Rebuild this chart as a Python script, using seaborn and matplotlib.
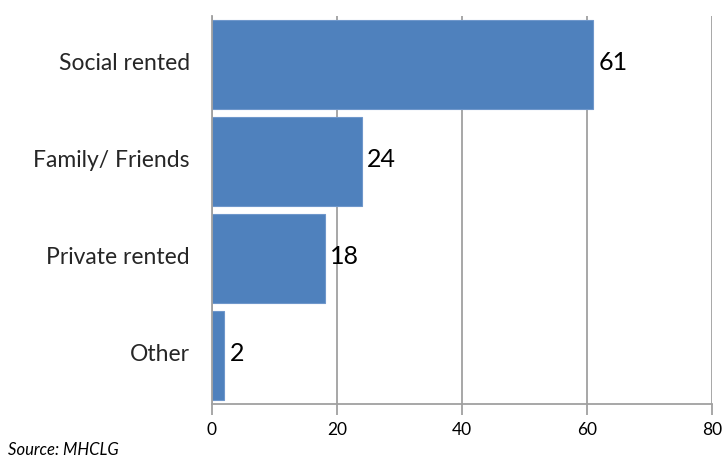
import matplotlib
matplotlib.use("Agg")
import matplotlib.pyplot as plt
import matplotlib.transforms as mtransforms
import seaborn as sns
import pandas as pd
import numpy as np

categories = ["Social rented", "Family/ Friends", "Private rented", "Other"]
values = [61, 24, 18, 2]
x_ticks = [0, 20, 40, 60, 80]
source_text = "Source: MHCLG"

bar_color = "#4F81BD"
grid_color = "#A0A0A0"

sns.set_theme(style="white")
plt.rcParams["font.family"] = ["Lato", "DejaVu Sans"]

df = pd.DataFrame({"tenure": categories, "pct": values})

fig = plt.figure(figsize=(7.24, 4.58), dpi=100)
ax = fig.add_axes([212 / 724, 1 - 404 / 458, 500 / 724, 388 / 458])

sns.barplot(data=df, y="tenure", x="pct", orient="h", color=bar_color,
            saturation=1, width=0.91, edgecolor="#6F97CB", linewidth=0.8,
            ax=ax, zorder=3)

ax.set_xlim(0, 80)
ax.set_ylim(len(categories) - 0.5, -0.5)
ax.set_xticks(x_ticks)
ax.set_xticklabels([str(t) for t in x_ticks], fontsize=12.5, color="#000000")
ax.xaxis.grid(True, color=grid_color, linewidth=1.3, zorder=0)
ax.yaxis.grid(False)
ax.set_axisbelow(True)

ax.set_xlabel("")
ax.set_ylabel("")
ax.tick_params(axis="y", which="major", length=0, pad=16, labelsize=16.5)
# nudge category labels up slightly
shift = mtransforms.ScaledTranslation(0, 3 / 100, fig.dpi_scale_trans)
for lbl in ax.get_yticklabels():
    lbl.set_transform(lbl.get_transform() + shift)
ax.set_yticks(np.arange(len(categories) + 1) - 0.5, minor=True)
ax.tick_params(axis="y", which="minor", length=8, width=1.3, color=grid_color)
ax.tick_params(axis="x", which="major", length=8, width=1.3, color=grid_color,
               direction="out", pad=5, bottom=True)

for side in ["top", "right"]:
    ax.spines[side].set_visible(False)
for side in ["left", "bottom"]:
    ax.spines[side].set_color(grid_color)
    ax.spines[side].set_linewidth(1.3)
    ax.spines[side].set_zorder(4)

for i, v in enumerate(values):
    ax.text(v + 0.8, i - 0.02, str(v), va="center", ha="left", fontsize=18,
            color="#000000", zorder=5)

fig.text(8 / 724, 1 - 450 / 458, source_text, fontsize=12, style="italic",
         color="#000000", va="center", ha="left")

fig.savefig("out.png", dpi=100)
